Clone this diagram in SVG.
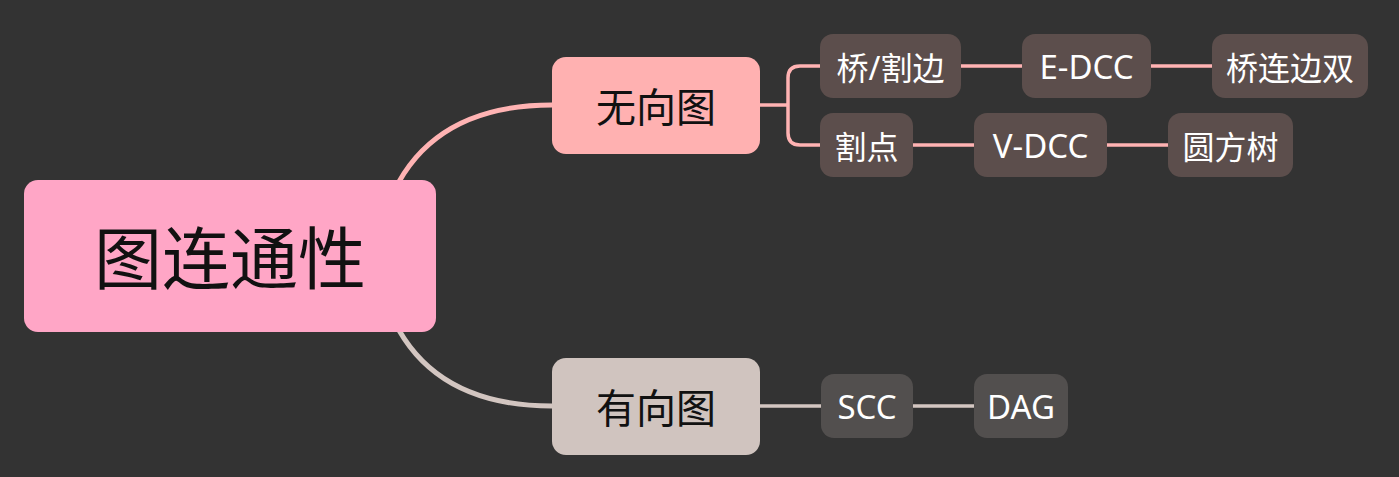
<svg xmlns="http://www.w3.org/2000/svg" width="1399" height="477" viewBox="0 0 1399 477">
<style>
text{font-family:"Noto Sans","Noto Sans CJK SC",sans-serif;text-anchor:middle;dominant-baseline:central}
.root{fill:#FFA6C6}
.rt{font-size:68px;fill:#111}
.l1t{font-size:40px;fill:#111}
.sub1{fill:#5C4E4C}
.sub2{fill:#524F4E}
.st{font-size:32px;fill:#fff}
.lt{font-size:33px}
.c1{fill:none;stroke:#FFB3B3}
.c2{fill:none;stroke:#D3C6C1}
</style>
<rect width="1399" height="477" fill="#333333"/>
<g id="connectors">
<path class="c1" stroke-width="5" d="M390 200 Q430 105 552 105"/>
<path class="c2" stroke-width="5" d="M390 312 Q430 406 552 406"/>
<path class="c1" stroke-width="3.5" d="M760 105 H788 M820 66 H800 Q788 66 788 78 V133 Q788 145 800 145 H820"/>
<path class="c1" stroke-width="3.5" d="M961 66 H1022 M1151 66 H1212 M913 145 H974 M1107 145 H1168"/>
<path class="c2" stroke-width="3.5" d="M760 406 H821 M913 406 H974"/>
</g>
<g id="root"><rect class="root" x="24" y="180" width="412" height="152" rx="14"/><text class="rt" x="230" y="257">图连通性</text></g>
<g id="undirected"><rect fill="#FFB1B1" x="552" y="57" width="208" height="97" rx="14"/><text class="l1t" x="656" y="106">无向图</text></g>
<g id="directed"><rect fill="#D0C4BF" x="552" y="358" width="208" height="97" rx="14"/><text class="l1t" x="656" y="407">有向图</text></g>
<g id="bridge"><rect class="sub1" x="820" y="34" width="141" height="64" rx="13"/><text class="st" x="890.5" y="67">桥/割边</text></g>
<g id="edcc"><rect class="sub1" x="1022" y="34" width="129" height="64" rx="13"/><text class="st lt" x="1086.5" y="66">E-DCC</text></g>
<g id="ebcc"><rect class="sub1" x="1212" y="34" width="156" height="64" rx="13"/><text class="st" x="1290" y="67">桥连边双</text></g>
<g id="cutpoint"><rect class="sub1" x="820" y="113" width="93" height="64" rx="13"/><text class="st" x="866.5" y="146">割点</text></g>
<g id="vdcc"><rect class="sub1" x="974" y="113" width="133" height="64" rx="13"/><text class="st lt" x="1040.5" y="145">V-DCC</text></g>
<g id="blocktree"><rect class="sub1" x="1168" y="113" width="125" height="64" rx="13"/><text class="st" x="1230.5" y="146">圆方树</text></g>
<g id="scc"><rect class="sub2" x="821" y="374" width="92" height="64" rx="13"/><text class="st lt" x="867" y="406">SCC</text></g>
<g id="dag"><rect class="sub2" x="974" y="374" width="94" height="64" rx="13"/><text class="st lt" x="1021" y="406">DAG</text></g>
</svg>
